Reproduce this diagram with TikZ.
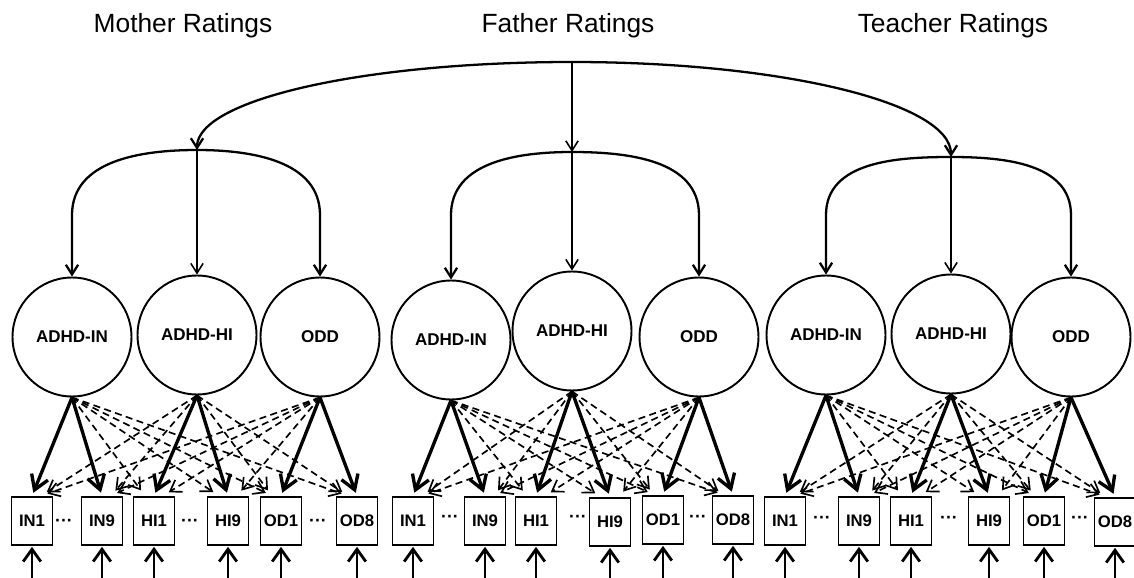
\documentclass[tikz,border=0pt]{standalone}
\usepackage{fontspec}
\setmainfont{Liberation Sans}
\usetikzlibrary{arrows.meta}

\begin{document}
\begin{tikzpicture}[x=0.02cm,y=-0.02cm,
  lat/.style={circle,draw,line width=1.1pt,minimum size=2.38cm,inner sep=0pt,font=\fontsize{9.7}{11}\selectfont\bfseries},
  obs/.style={rectangle,draw,line width=1.1pt,minimum width=0.82cm,minimum height=0.96cm,inner sep=0pt,font=\fontsize{9.5}{11}\selectfont\bfseries},
  gap/.style={inner sep=0pt,font=\fontsize{10}{11}\selectfont\bfseries},
  title/.style={inner sep=1pt,font=\fontsize{15}{18}\selectfont},
  cov/.style={line width=1.3pt,{Straight Barb[length=5.5pt,width=7pt]}-{Straight Barb[length=5.5pt,width=7pt]}},
  vert/.style={line width=0.9pt,-{Straight Barb[length=5.5pt,width=7pt]}},
  mload/.style={line width=1.9pt,-{Straight Barb[length=8pt,width=10pt]},shorten >=2pt},
  xload/.style={line width=0.95pt,dash pattern=on 4pt off 2.5pt,-{Straight Barb[length=6pt,width=8pt]},shorten >=4pt},
  resid/.style={line width=1.6pt,-{Straight Barb[length=7pt,width=10pt]},shorten >=0.5pt}]
\useasboundingbox (0,0) rectangle (1134,578);
% titles
\node[title] (mT) at (183,26) {Mother Ratings};
\node[title] (fT) at (568,26) {Father Ratings};
\node[title] (tT) at (953,26) {Teacher Ratings};
% latent factors
\node[lat] (mIN) at (72,337) {ADHD-IN};
\node[lat] (mHI) at (197,335) {ADHD-HI};
\node[lat] (mOD) at (320,337) {ODD};
\node[lat] (fIN) at (451,340) {ADHD-IN};
\node[lat] (fHI) at (572,331) {ADHD-HI};
\node[lat] (fOD) at (699,337) {ODD};
\node[lat] (tIN) at (826,335) {ADHD-IN};
\node[lat] (tHI) at (951,334) {ADHD-HI};
\node[lat] (tOD) at (1071,337) {ODD};
% items
\node[obs] (mIN1) at (32,521) {IN1};
\node[obs] (mIN9) at (102,521) {IN9};
\node[obs] (mHI1) at (154,521) {HI1};
\node[obs] (mHI9) at (228,521) {HI9};
\node[obs] (mOD1) at (281,521) {OD1};
\node[obs] (mOD8) at (357,521) {OD8};
\node[obs] (fIN1) at (413,521) {IN1};
\node[obs] (fIN9) at (485,521) {IN9};
\node[obs] (fHI1) at (536,521) {HI1};
\node[obs] (fHI9) at (610,522) {HI9};
\node[obs] (fOD1) at (663,520) {OD1};
\node[obs] (fOD8) at (733,520) {OD8};
\node[obs] (tIN1) at (785,521) {IN1};
\node[obs] (tIN9) at (859,521) {IN9};
\node[obs] (tHI1) at (911,521) {HI1};
\node[obs] (tHI9) at (989,521) {HI9};
\node[obs] (tOD1) at (1044,521) {OD1};
\node[obs] (tOD8) at (1115,522) {OD8};
\node[gap] (mdA) at (64,523) {···};
\node[gap] (mdB) at (190,523) {···};
\node[gap] (mdC) at (318,523) {···};
\node[gap] (fdA) at (450,519) {···};
\node[gap] (fdB) at (578,519) {···};
\node[gap] (fdC) at (698,519) {···};
\node[gap] (tdA) at (822,520) {···};
\node[gap] (tdB) at (949,520) {···};
\node[gap] (tdC) at (1080,520) {···};
% covariance arcs
\coordinate (top) at (572,62);
\coordinate (mL) at (72,215);
\coordinate (mTop) at (197,150);
\coordinate (mR) at (320,215);
\coordinate (fL) at (451,215);
\coordinate (fTop) at (572,152);
\coordinate (fR) at (699,215);
\coordinate (tL) at (826,215);
\coordinate (tTop) at (951,157);
\coordinate (tR) at (1071,215);
\draw[cov] (mTop) .. controls +(0,-50) and +(-210,0) .. (top) .. controls +(210,0) and +(0,-54) .. (tTop);
\draw[vert] (top) -- (fTop);
\draw[cov] (mIN) -- (mL) to[out=90,in=180] (mTop) to[out=0,in=90] (mR) -- (mOD);
\draw[cov] (fIN) -- (fL) to[out=90,in=180] (fTop) to[out=0,in=90] (fR) -- (fOD);
\draw[cov] (tIN) -- (tL) to[out=90,in=180] (tTop) to[out=0,in=90] (tR) -- (tOD);
\draw[vert] (mTop) -- (mHI);
\draw[vert] (fTop) -- (fHI);
\draw[vert] (tTop) -- (tHI);
% mother loadings
\draw[mload] (mIN.south) -- (mIN1.north);
\draw[mload] (mIN.south) -- (mIN9.north);
\draw[mload] (mHI.south) -- (mHI1.north);
\draw[mload] (mHI.south) -- (mHI9.north);
\draw[mload] (mOD.south) -- (mOD1.north);
\draw[mload] (mOD.south) -- (mOD8.north);
\draw[xload] (mIN.south) -- ([xshift=-5pt]mHI1.north);
\draw[xload] (mIN.south) -- ([xshift=-5pt]mHI9.north);
\draw[xload] (mIN.south) -- ([xshift=-5pt]mOD1.north);
\draw[xload] (mIN.south) -- ([xshift=-5pt]mOD8.north);
\draw[xload] (mHI.south) -- ([xshift=5pt]mIN1.north);
\draw[xload] (mHI.south) -- ([xshift=5pt]mIN9.north);
\draw[xload] (mHI.south) -- ([xshift=-5pt]mOD1.north);
\draw[xload] (mHI.south) -- ([xshift=-5pt]mOD8.north);
\draw[xload] (mOD.south) -- ([xshift=5pt]mIN1.north);
\draw[xload] (mOD.south) -- ([xshift=5pt]mIN9.north);
\draw[xload] (mOD.south) -- ([xshift=5pt]mHI1.north);
\draw[xload] (mOD.south) -- ([xshift=5pt]mHI9.north);
% father loadings
\draw[mload] (fIN.south) -- (fIN1.north);
\draw[mload] (fIN.south) -- (fIN9.north);
\draw[mload] (fHI.south) -- (fHI1.north);
\draw[mload] (fHI.south) -- (fHI9.north);
\draw[mload] (fOD.south) -- (fOD1.north);
\draw[mload] (fOD.south) -- (fOD8.north);
\draw[xload] (fIN.south) -- ([xshift=-5pt]fHI1.north);
\draw[xload] (fIN.south) -- ([xshift=-5pt]fHI9.north);
\draw[xload] (fIN.south) -- ([xshift=-5pt]fOD1.north);
\draw[xload] (fIN.south) -- ([xshift=-5pt]fOD8.north);
\draw[xload] (fHI.south) -- ([xshift=5pt]fIN1.north);
\draw[xload] (fHI.south) -- ([xshift=5pt]fIN9.north);
\draw[xload] (fHI.south) -- ([xshift=-5pt]fOD1.north);
\draw[xload] (fHI.south) -- ([xshift=-5pt]fOD8.north);
\draw[xload] (fOD.south) -- ([xshift=5pt]fIN1.north);
\draw[xload] (fOD.south) -- ([xshift=5pt]fIN9.north);
\draw[xload] (fOD.south) -- ([xshift=5pt]fHI1.north);
\draw[xload] (fOD.south) -- ([xshift=5pt]fHI9.north);
% teacher loadings
\draw[mload] (tIN.south) -- (tIN1.north);
\draw[mload] (tIN.south) -- (tIN9.north);
\draw[mload] (tHI.south) -- (tHI1.north);
\draw[mload] (tHI.south) -- (tHI9.north);
\draw[mload] (tOD.south) -- (tOD1.north);
\draw[mload] (tOD.south) -- (tOD8.north);
\draw[xload] (tIN.south) -- ([xshift=-5pt]tHI1.north);
\draw[xload] (tIN.south) -- ([xshift=-5pt]tHI9.north);
\draw[xload] (tIN.south) -- ([xshift=-5pt]tOD1.north);
\draw[xload] (tIN.south) -- ([xshift=-5pt]tOD8.north);
\draw[xload] (tHI.south) -- ([xshift=5pt]tIN1.north);
\draw[xload] (tHI.south) -- ([xshift=5pt]tIN9.north);
\draw[xload] (tHI.south) -- ([xshift=-5pt]tOD1.north);
\draw[xload] (tHI.south) -- ([xshift=-5pt]tOD8.north);
\draw[xload] (tOD.south) -- ([xshift=5pt]tIN1.north);
\draw[xload] (tOD.south) -- ([xshift=5pt]tIN9.north);
\draw[xload] (tOD.south) -- ([xshift=5pt]tHI1.north);
\draw[xload] (tOD.south) -- ([xshift=5pt]tHI9.north);
% residuals
\coordinate (mIN1e) at (32,578);
\coordinate (mIN9e) at (102,578);
\coordinate (mHI1e) at (154,578);
\coordinate (mHI9e) at (228,578);
\coordinate (mOD1e) at (281,578);
\coordinate (mOD8e) at (357,578);
\coordinate (fIN1e) at (413,578);
\coordinate (fIN9e) at (485,578);
\coordinate (fHI1e) at (536,578);
\coordinate (fHI9e) at (610,578);
\coordinate (fOD1e) at (663,578);
\coordinate (fOD8e) at (733,578);
\coordinate (tIN1e) at (785,578);
\coordinate (tIN9e) at (859,578);
\coordinate (tHI1e) at (911,578);
\coordinate (tHI9e) at (989,578);
\coordinate (tOD1e) at (1044,578);
\coordinate (tOD8e) at (1115,578);
\draw[resid] (mIN1e) -- (mIN1);
\draw[resid] (mIN9e) -- (mIN9);
\draw[resid] (mHI1e) -- (mHI1);
\draw[resid] (mHI9e) -- (mHI9);
\draw[resid] (mOD1e) -- (mOD1);
\draw[resid] (mOD8e) -- (mOD8);
\draw[resid] (fIN1e) -- (fIN1);
\draw[resid] (fIN9e) -- (fIN9);
\draw[resid] (fHI1e) -- (fHI1);
\draw[resid] (fHI9e) -- (fHI9);
\draw[resid] (fOD1e) -- (fOD1);
\draw[resid] (fOD8e) -- (fOD8);
\draw[resid] (tIN1e) -- (tIN1);
\draw[resid] (tIN9e) -- (tIN9);
\draw[resid] (tHI1e) -- (tHI1);
\draw[resid] (tHI9e) -- (tHI9);
\draw[resid] (tOD1e) -- (tOD1);
\draw[resid] (tOD8e) -- (tOD8);
\end{tikzpicture}
\end{document}
